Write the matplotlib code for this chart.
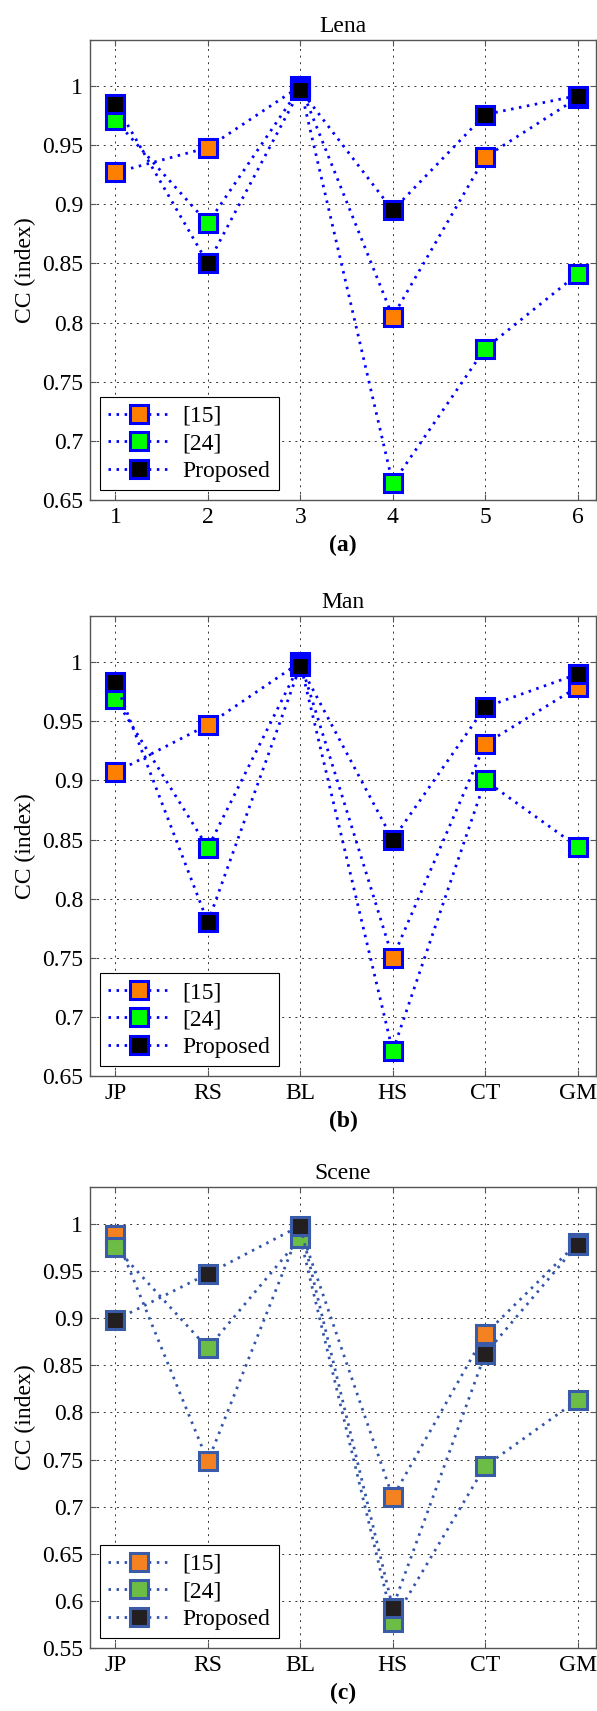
import matplotlib.pyplot as plt
import numpy as np

FONT = 'Liberation Serif'
plt.rcParams['font.family'] = [FONT]
plt.rcParams['font.size'] = 17
plt.rcParams['mathtext.fontset'] = 'stix'

x = np.arange(1, 7)
lena_ticks = ['1', '2', '3', '4', '5', '6']
test_ticks = ['JP', 'RS', 'BL', 'HS', 'CT', 'GM']
series_names = ['[15]', '[24]', 'Proposed']

# CC values
lena_15 = [0.927, 0.948, 1.000, 0.805, 0.940, 0.990]
lena_24 = [0.971, 0.884, 0.999, 0.664, 0.778, 0.841]
lena_prop = [0.985, 0.850, 0.997, 0.895, 0.976, 0.992]

man_15 = [0.907, 0.947, 1.000, 0.750, 0.931, 0.979]
man_24 = [0.969, 0.843, 0.999, 0.671, 0.900, 0.844]
man_prop = [0.983, 0.780, 0.997, 0.850, 0.962, 0.990]

scene_15 = [0.988, 0.748, 0.995, 0.710, 0.883, 0.980]
scene_24 = [0.975, 0.868, 0.985, 0.578, 0.743, 0.813]
scene_prop = [0.898, 0.947, 0.998, 0.593, 0.862, 0.978]


def draw_panel(ax, title, letter, ticks, series, ymin, yticks,
               edge, line_col, fills):
    for vals, name, fc in zip(series, series_names, fills):
        ax.plot(x, vals, color=line_col, lw=2, linestyle=(0, (0.9, 2)),
                marker='s', markersize=13, markeredgewidth=2.2,
                markeredgecolor=edge, markerfacecolor=fc, label=name)
    ax.set_xlim(0.725, 6.2)
    ax.set_ylim(ymin, 1.039)
    ax.set_xticks(x)
    ax.set_xticklabels(ticks, fontfamily=FONT, fontsize=17)
    ax.set_yticks(yticks)
    ax.set_yticklabels(['1' if t == 1 else ('%g' % t) for t in yticks],
                       fontfamily=FONT, fontsize=17)
    ax.grid(True, color='#333333', lw=0.7, linestyle=(0, (2, 4.8)))
    ax.tick_params(direction='in', length=4, pad=5, top=True, right=True,
                   color='#555555')
    for s in ax.spines.values():
        s.set_color('#555555')
        s.set_linewidth(1)
    ax.set_title(title, pad=6, fontfamily=FONT, fontsize=17)
    ax.set_ylabel('CC (index)', labelpad=4, fontfamily=FONT, fontsize=17)
    ax.set_xlabel(letter, fontweight='bold', labelpad=5, fontfamily=FONT,
                  fontsize=17)
    leg = ax.legend(loc='lower left', borderaxespad=0.42, handlelength=2.6,
                    handletextpad=0.55, labelspacing=0.25, borderpad=0.35,
                    fancybox=False, edgecolor='black', framealpha=1,
                    numpoints=1, prop={'family': FONT, 'size': 17})
    leg.get_frame().set_linewidth(0.8)


def main():
    fig = plt.figure(figsize=(5.97, 17.11), dpi=100)
    left, width = 0.1508, 0.8476

    ax1 = fig.add_axes([left, 0.7078, width, 0.2688])
    draw_panel(ax1, 'Lena', '(a)', lena_ticks,
               [lena_15, lena_24, lena_prop], 0.65,
               np.round(np.arange(0.65, 1.001, 0.05), 2),
               '#0000ff', '#0000ff', ['#ff8000', '#00ff00', '#000000'])

    ax2 = fig.add_axes([left, 0.3711, width, 0.2688])
    draw_panel(ax2, 'Man', '(b)', test_ticks,
               [man_15, man_24, man_prop], 0.65,
               np.round(np.arange(0.65, 1.001, 0.05), 2),
               '#0000ff', '#0000ff', ['#ff8000', '#00ff00', '#000000'])

    ax3 = fig.add_axes([left, 0.0368, width, 0.2694])
    draw_panel(ax3, 'Scene', '(c)', test_ticks,
               [scene_15, scene_24, scene_prop], 0.55,
               np.round(np.arange(0.55, 1.001, 0.05), 2),
               '#3a5ba8', '#3355aa', ['#f58220', '#6cbd45', '#231f20'])

    fig.savefig('out.png', dpi=100)


if __name__ == "__main__":
    main()
